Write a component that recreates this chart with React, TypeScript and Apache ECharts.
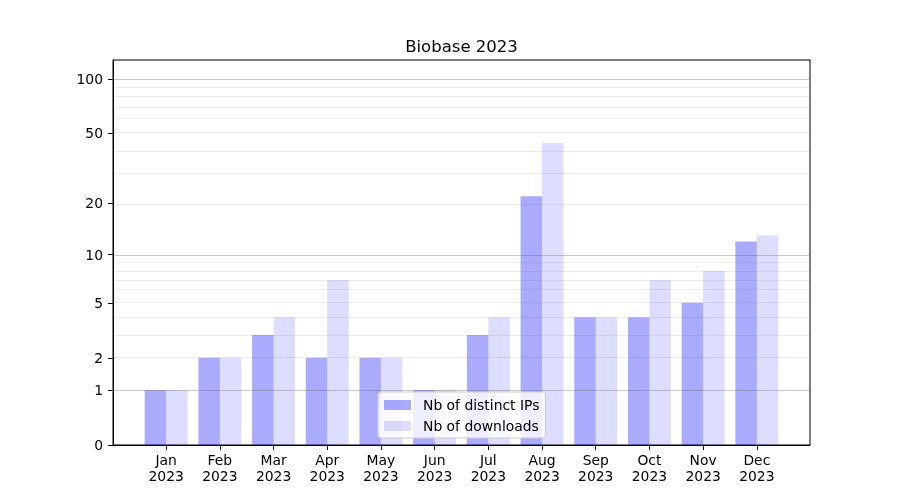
import React, { useEffect, useRef } from "react";
import * as echarts from "echarts";

const months = ["Jan", "Feb", "Mar", "Apr", "May", "Jun", "Jul", "Aug", "Sep", "Oct", "Nov", "Dec"];
const yearLabel = "2023";
const distinctIPs = [1, 2, 3, 2, 2, 1, 3, 22, 4, 4, 5, 12];
const downloads = [1, 2, 4, 7, 2, 1, 4, 44, 4, 7, 8, 13];
const yTickValues = [0, 1, 2, 5, 10, 20, 50, 100];
const majorGrid = [1, 10, 100];
const minorGrid = [2, 3, 4, 5, 6, 7, 8, 9, 20, 30, 40, 50, 60, 70, 80, 90];
const yTop = 127;

const tf = (v: number) => Math.log10(v + 1);
const inv = (t: number) => Math.round(Math.pow(10, t) - 1);

const FONT = "DejaVu Sans";

export default function App() {
  const ref = useRef<HTMLDivElement>(null);
  useEffect(() => {
    if (!ref.current) return;
    const chart = echarts.init(ref.current, null, { renderer: "svg" });
    const gridLeft = 113, gridRight = 90, gridTop = 60, gridBottom = 55;
    const xMin = -0.99, xMax = months.length - 1 + 0.99;
    const unit = (900 - gridLeft - gridRight) / (xMax - xMin);
    const barW = 0.4 * unit;
    const xIdx = months.map((_, i) => i);

    const gridLines = [
      ...minorGrid.map((v) => ({ yAxis: tf(v), lineStyle: { color: "rgba(0,0,0,0.075)", width: 1, type: "solid" } })),
      ...majorGrid.map((v) => ({ yAxis: tf(v), lineStyle: { color: "rgba(100,100,100,0.35)", width: 1, type: "solid" } })),
    ];

    chart.setOption({
      animation: false,
      textStyle: { fontFamily: FONT },
      graphic: [
        {
          type: "text",
          x: gridLeft + (900 - gridLeft - gridRight) / 2,
          y: 46,
          style: {
            text: "Biobase 2023",
            fontFamily: FONT,
            fontSize: 16.5,
            fill: "#000",
            textAlign: "center",
            textVerticalAlign: "middle",
          },
        },
      ],
      grid: {
        left: gridLeft,
        right: gridRight,
        top: gridTop,
        bottom: gridBottom,
        show: true,
        borderColor: "#000",
        borderWidth: 1,
        backgroundColor: "transparent",
      },
      legend: {
        orient: "vertical",
        left: 378,
        top: 392,
        itemWidth: 27,
        itemHeight: 10,
        itemGap: 5,
        padding: [5, 6, 4, 6],
        backgroundColor: "rgba(255,255,255,0.8)",
        borderColor: "#cccccc",
        borderWidth: 1,
        borderRadius: 3,
        icon: "rect",
        textStyle: { fontFamily: FONT, fontSize: 13.9, color: "#000", lineHeight: 16, padding: [0, 0, 0, 7] },
        data: ["Nb of distinct IPs", "Nb of downloads"],
      },
      xAxis: {
        type: "value",
        min: xMin,
        max: xMax,
        splitLine: { show: false },
        axisLine: { show: true, onZero: false, lineStyle: { color: "#000", width: 1 } },
        axisTick: { show: true, customValues: xIdx, length: 5, lineStyle: { color: "#000" } },
        axisLabel: {
          customValues: xIdx,
          formatter: (v: number) => `${months[Math.round(v)]}\n${yearLabel}`,
          fontFamily: FONT,
          fontSize: 13.9,
          color: "#000",
          lineHeight: 16,
          margin: 7,
        },
      },
      yAxis: {
        type: "value",
        min: 0,
        max: tf(yTop),
        splitLine: { show: false },
        axisLine: { show: true, onZero: false, lineStyle: { color: "#000", width: 1 } },
        axisTick: { show: true, customValues: yTickValues.map(tf), length: 5, lineStyle: { color: "#000" } },
        axisLabel: {
          customValues: yTickValues.map(tf),
          formatter: (v: number) => String(inv(v)),
          fontFamily: FONT,
          fontSize: 13.9,
          color: "#000",
          margin: 10,
        },
      },
      series: [
        {
          name: "Nb of distinct IPs",
          type: "bar",
          barWidth: barW,
          barGap: "0%",
          itemStyle: { color: "rgba(0,0,255,0.333)" },
          data: distinctIPs.map((v, i) => [i, tf(v)]),
        },
        {
          name: "Nb of downloads",
          type: "bar",
          barWidth: barW,
          barGap: "0%",
          itemStyle: { color: "rgba(0,0,255,0.135)" },
          data: downloads.map((v, i) => [i, tf(v)]),
          markLine: {
            silent: true,
            symbol: "none",
            label: { show: false },
            z: 5,
            data: gridLines,
          },
        },
      ],
    });
    return () => chart.dispose();
  }, []);
  return <div ref={ref} style={{ position: "fixed", left: 0, top: 0, width: 900, height: 500 }} />;
}
